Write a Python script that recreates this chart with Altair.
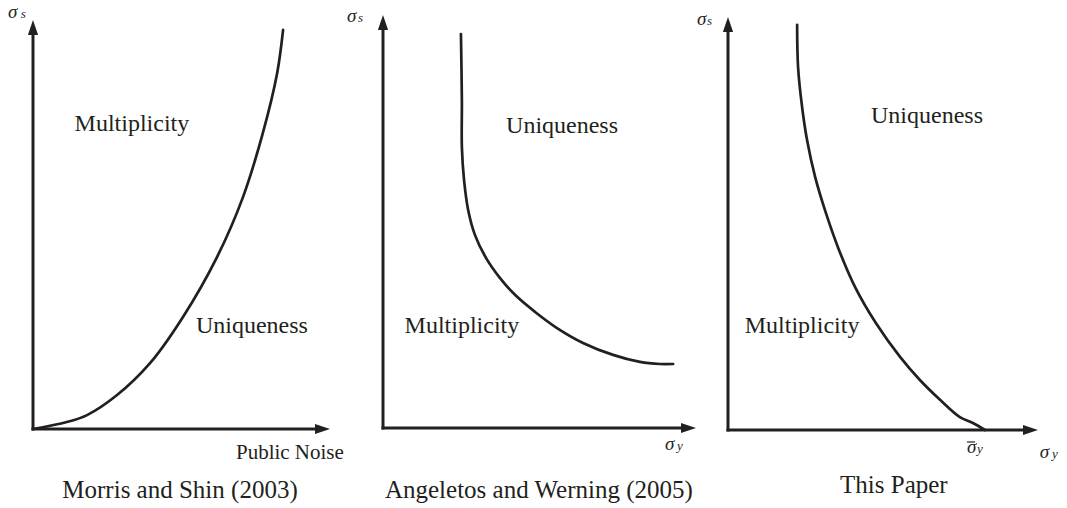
import altair as alt
import pandas as pd

# ---------------- data (axis units: 0 = origin, 1 = arrow tip) ----------------
# Morris and Shin (2003): convex increasing boundary
ms_x = [0.0, 0.114, 0.182, 0.283, 0.394, 0.505, 0.620, 0.707, 0.774, 0.822, 0.842]
ms_y = [0.0, 0.017, 0.034, 0.083, 0.161, 0.274, 0.421, 0.567, 0.724, 0.870, 0.976]

# Angeletos and Werning (2005): decreasing, levelling off
aw_x = [0.249, 0.252, 0.252, 0.259, 0.272, 0.294, 0.329, 0.374, 0.425, 0.486, 0.556, 0.639, 0.735, 0.821, 0.885, 0.927]
aw_y = [0.954, 0.794, 0.680, 0.600, 0.528, 0.467, 0.412, 0.363, 0.320, 0.281, 0.242, 0.206, 0.177, 0.160, 0.155, 0.155]

# This Paper: decreasing, hits the axis at sigma_y bar
tp_x = [0.223, 0.226, 0.239, 0.255, 0.281, 0.316, 0.358, 0.410, 0.477, 0.555, 0.619, 0.684, 0.748, 0.790, 0.829]
tp_y = [0.981, 0.879, 0.782, 0.702, 0.613, 0.525, 0.436, 0.346, 0.259, 0.177, 0.121, 0.073, 0.031, 0.017, 0.0]

captions = ["Morris and Shin (2003)", "Angeletos and Werning (2005)", "This Paper"]
region_upper = ["Multiplicity", "Uniqueness", "Uniqueness"]
region_lower = ["Uniqueness", "Multiplicity", "Multiplicity"]

# ---------------- layout ----------------
W, H = 1051, 500          # drawing area (page minus 8px margin)
FONT = "'Liberation Serif', 'Times New Roman', Times, serif"
INK = "#231f20"

# per panel: origin and arrow tips in page pixels (layout only)
frames = [
    dict(ox=33, oy=429, tipx=330, tipy=20),
    dict(ox=383, oy=428, tipx=696, tipy=15),
    dict(ox=728, oy=430, tipx=1038, tipy=17),
]

# label placement in axis units: (text, x, y, size)  -- upright, centred
upright = [
    [(region_upper[0], 0.333, 0.729, 24), (region_lower[0], 0.737, 0.235, 24),
     ("Public Noise", 0.865, -0.073, 21), (captions[0], 0.495, -0.169, 25)],
    [(region_upper[1], 0.572, 0.714, 24), (region_lower[1], 0.252, 0.230, 24),
     (captions[1], 0.498, -0.169, 25)],
    [(region_upper[2], 0.642, 0.743, 24), (region_lower[2], 0.239, 0.235, 24),
     (captions[2], 0.535, -0.153, 25)],
]
# italic symbols, left aligned
italic = [
    [("σ", -0.084, 1.005, 19), ("s", -0.041, 1.005, 13)],
    [("σ", -0.115, 0.983, 19), ("s", -0.080, 0.983, 13),
     ("σ", 0.901, -0.053, 19), ("y", 0.939, -0.053, 13)],
    [("σ", -0.100, 0.981, 19), ("s", -0.068, 0.981, 13),
     ("σ", 0.771, -0.056, 19), ("y", 0.803, -0.056, 13),
     ("σ", 1.006, -0.068, 19), ("y", 1.045, -0.068, 13)],
]
overbars = [None, None, (0.771, 0.797, -0.029)]

curves = [(ms_x, ms_y), (aw_x, aw_y), (tp_x, tp_y)]

HEAD_RIGHT = "M0,0L-2,-0.68L-2,0.68Z"
HEAD_UP = "M0,0L-0.68,2L0.68,2Z"


def panel(i):
    f = frames[i]
    Lx = f["tipx"] - f["ox"]
    Ly = f["oy"] - f["tipy"]
    xmin = -(f["ox"] - 8) / Lx
    xmax = xmin + W / Lx
    ymin = -(H - (f["oy"] - 8)) / Ly
    ymax = ymin + H / Ly
    xs = alt.Scale(domain=[xmin, xmax], nice=False, zero=False)
    ys = alt.Scale(domain=[ymin, ymax], nice=False, zero=False)

    def X(field="x"):
        return alt.X(f"{field}:Q", scale=xs, axis=None)

    def Y(field="y"):
        return alt.Y(f"{field}:Q", scale=ys, axis=None)

    # axes lines
    xe = 1 - 12 / Lx
    ye = 1 - 12 / Ly
    ax_df = pd.DataFrame({"x": [0, 0], "x2": [xe, 0], "y": [0, 0], "y2": [0, ye]})
    axes = alt.Chart(ax_df).mark_rule(color=INK, strokeWidth=3, strokeCap="square").encode(
        x=X(), x2="x2:Q", y=Y(), y2="y2:Q")

    head_r = alt.Chart(pd.DataFrame({"x": [1.0], "y": [0.0]})).mark_point(
        shape=HEAD_RIGHT, size=225, filled=True, color=INK, opacity=1, strokeWidth=0
    ).encode(x=X(), y=Y())
    head_u = alt.Chart(pd.DataFrame({"x": [0.0], "y": [1.0]})).mark_point(
        shape=HEAD_UP, size=225, filled=True, color=INK, opacity=1, strokeWidth=0
    ).encode(x=X(), y=Y())

    cx, cy = curves[i]
    cdf = pd.DataFrame({"x": cx, "y": cy, "i": list(range(len(cx)))})
    curve = alt.Chart(cdf).mark_line(color=INK, strokeWidth=2.7, interpolate="catmull-rom",
                                     strokeCap="round").encode(
        x=X(), y=Y(), order="i:Q")

    up = pd.DataFrame(upright[i], columns=["t", "x", "y", "s"])
    t_up = alt.Chart(up).mark_text(font=FONT, color=INK, align="center", baseline="alphabetic").encode(
        x=X(), y=Y(), text="t:N", size=alt.Size("s:Q", scale=None, legend=None))

    it = pd.DataFrame(italic[i], columns=["t", "x", "y", "s"])
    t_it = alt.Chart(it).mark_text(font=FONT, fontStyle="italic", color=INK, align="left",
                                   baseline="alphabetic").encode(
        x=X(), y=Y(), text="t:N", size=alt.Size("s:Q", scale=None, legend=None))

    layers = [axes, head_r, head_u, curve, t_up, t_it]
    if overbars[i] is not None:
        b = overbars[i]
        bdf = pd.DataFrame({"x": [b[0]], "x2": [b[1]], "y": [b[2]]})
        layers.append(alt.Chart(bdf).mark_rule(color=INK, strokeWidth=1.2).encode(
            x=X(), x2="x2:Q", y=Y()))
    return alt.layer(*layers)


chart = alt.layer(panel(0), panel(1), panel(2)).resolve_scale(
    x="independent", y="independent"
).properties(
    width=W, height=H, padding=0, autosize=alt.AutoSizeParams(type="none")
).configure_view(stroke=None)

chart.save("out.html", embed_options={"renderer": "svg", "actions": False})
